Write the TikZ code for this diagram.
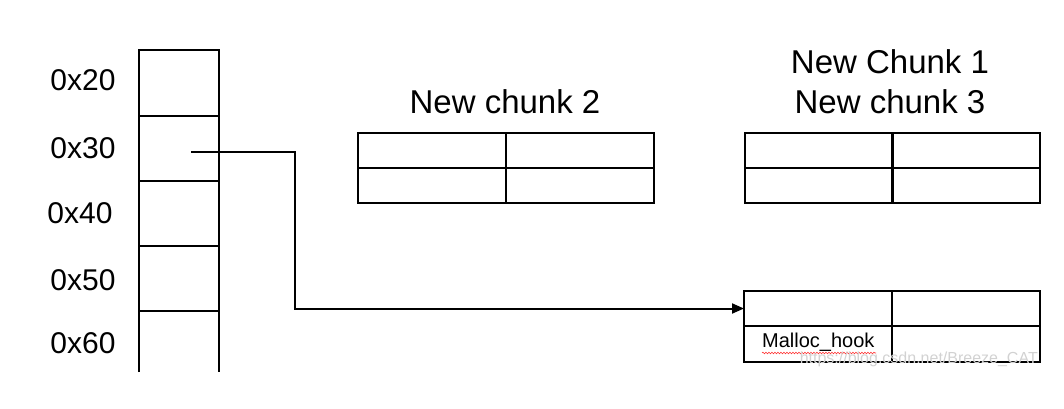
\documentclass[tikz,border=0pt]{standalone}
\usepackage{fontspec}
\setmainfont{Liberation Sans}
\usetikzlibrary{arrows.meta,decorations.pathmorphing}
\begin{document}
\begin{tikzpicture}[x=1pt,y=-1pt,
  lw/.style={line width=2pt},
  cell/.style={draw,lw,rectangle,inner sep=0pt,outer sep=0pt,minimum width=148pt,minimum height=35pt},
  addr/.style={font=\fontsize{30}{32}\selectfont},
  title/.style={font=\fontsize{33}{38}\selectfont,align=center},
  conn/.style={lw,-{Triangle[length=12pt,width=10pt]}}
]
\useasboundingbox (0,0) rectangle (1064,409);
% left column
\draw[lw] (139,372) -- (139,50) -- (219,50) -- (219,372);
\foreach \yy in {116,181,246,311} \draw[lw] (139,\yy) -- (219,\yy);
\node[addr] (a20) at (83,80) {0x20};
\node[addr] (a30) at (83,148) {0x30};
\node[addr] (a40) at (80,213) {0x40};
\node[addr] (a50) at (83,280) {0x50};
\node[addr] (a60) at (83,343) {0x60};
\coordinate (p) at (191,152);
% chunk 2
\node[cell] (m11) at (432,150.5) {};
\node[cell] (m12) at (580,150.5) {};
\node[cell] (m21) at (432,185.5) {};
\node[cell] (m22) at (580,185.5) {};
\node[title] (t2) at (505,102) {New chunk 2};
% chunk 1/3
\node[cell] (r11) at (818.5,150.5) {};
\node[cell] (r12) at (966,150.5) {};
\node[cell] (r21) at (818.5,185.5) {};
\node[cell] (r22) at (966,185.5) {};
\node[title] (t1) at (890,62) {New Chunk 1};
\node[title] (t3) at (890,102) {New chunk 3};
% target chunk
\node[cell] (b11) at (818,308.5) {};
\node[cell] (b12) at (966,308.5) {};
\node[cell,minimum height=36pt] (b21) at (818,344) {};
\node[cell,minimum height=36pt] (b22) at (966,344) {};
\node[font=\fontsize{20}{22}\selectfont,anchor=west,inner sep=0pt] (mh) at (762,342) {Malloc\_hook};
\draw[red!80,line width=0.6pt,decorate,decoration={snake,amplitude=0.8pt,segment length=3pt}] (762,353) -- (876,353);
\node[text=gray!35,font=\fontsize{16}{18}\selectfont,anchor=east,inner sep=0pt] (wm) at (1038,359) {https://blog.csdn.net/Breeze\_CAT};
% connector
\draw[conn] (p) -- (295,152) -- (295,308.5) -- (b11.west);
\end{tikzpicture}
\end{document}
